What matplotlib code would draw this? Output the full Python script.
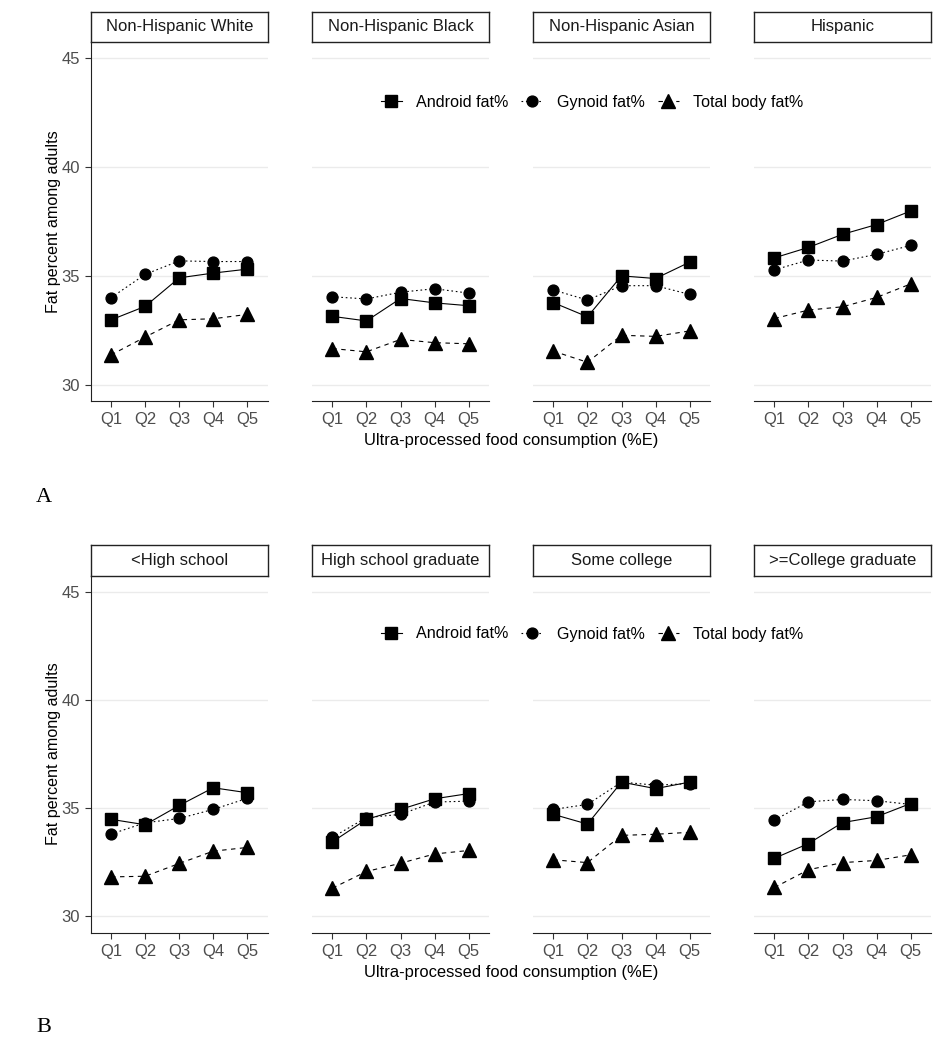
import numpy as np
import matplotlib
matplotlib.use('Agg')
import matplotlib.pyplot as plt
from matplotlib.lines import Line2D

plt.rcParams['font.family'] = ['Liberation Sans', 'DejaVu Sans']

# -----------------------------------------------------------------------------
# data
# -----------------------------------------------------------------------------
quintiles = ['Q1', 'Q2', 'Q3', 'Q4', 'Q5']

race_groups = ['Non-Hispanic White', 'Non-Hispanic Black', 'Non-Hispanic Asian', 'Hispanic']
android_race = [
    [32.98, 33.60, 34.91, 35.13, 35.31],
    [33.14, 32.93, 33.96, 33.76, 33.63],
    [33.77, 33.12, 35.00, 34.88, 35.63],
    [35.83, 36.31, 36.91, 37.36, 37.98],
]
gynoid_race = [
    [34.00, 35.07, 35.69, 35.66, 35.66],
    [34.04, 33.94, 34.25, 34.41, 34.21],
    [34.35, 33.89, 34.55, 34.55, 34.15],
    [35.28, 35.73, 35.68, 35.99, 36.40],
]
total_race = [
    [31.37, 32.19, 32.98, 33.03, 33.23],
    [31.66, 31.51, 32.08, 31.93, 31.88],
    [31.54, 31.03, 32.27, 32.22, 32.47],
    [33.04, 33.43, 33.58, 34.01, 34.63],
]

edu_groups = ['<High school', 'High school graduate', 'Some college', '>=College graduate']
android_edu = [
    [34.48, 34.23, 35.12, 35.94, 35.71],
    [33.44, 34.48, 34.94, 35.43, 35.67],
    [34.71, 34.26, 36.20, 35.90, 36.20],
    [32.68, 33.36, 34.33, 34.60, 35.21],
]
gynoid_edu = [
    [33.80, 34.32, 34.52, 34.94, 35.45],
    [33.65, 34.56, 34.71, 35.28, 35.32],
    [34.94, 35.17, 36.20, 36.06, 36.13],
    [34.45, 35.29, 35.40, 35.34, 35.17],
]
total_edu = [
    [31.82, 31.85, 32.44, 33.01, 33.18],
    [31.30, 32.07, 32.45, 32.88, 33.04],
    [32.61, 32.48, 33.74, 33.79, 33.88],
    [31.33, 32.15, 32.48, 32.58, 32.84],
]

# -----------------------------------------------------------------------------
# layout (pixels)
# -----------------------------------------------------------------------------
W, H = 948, 1050
fig = plt.figure(figsize=(W / 100, H / 100), dpi=100)

panel_lefts = [90.7, 312, 533, 754]
panel_w = 177
GRAY = '#4D4D4D'
GRID = '#EBEBEB'
FS = 11.6


def px_axes(x0, y_top, w, h):
    return fig.add_axes([x0 / W, 1 - (y_top + h) / H, w / W, h / H])


def draw_row(groups, android, gynoid, total, strip_top, plot_top, plot_bot, letter, letter_y):
    for i, name in enumerate(groups):
        x0 = panel_lefts[i]
        ax = px_axes(x0, plot_top, panel_w, plot_bot - plot_top)
        xs = np.arange(len(quintiles))
        ax.plot(xs, android[i], color='black', lw=0.8, ls='-', marker='s', ms=8.3, zorder=3)
        ax.plot(xs, gynoid[i], color='black', lw=0.8, ls=(0, (1.5, 2.5)), marker='o', ms=7.8, zorder=3)
        ax.plot(xs, total[i], color='black', lw=0.8, ls=(0, (4, 4)), marker='^', ms=9.5, zorder=3)
        ax.set_xlim(-0.6, 4.6)
        ax.set_ylim(29.25, 45.75)
        ax.set_yticks([30, 35, 40, 45])
        ax.set_xticks(xs)
        ax.set_xticklabels(quintiles)
        ax.yaxis.grid(True, color=GRID, lw=1.0)
        ax.set_axisbelow(True)
        for s in ['top', 'right']:
            ax.spines[s].set_visible(False)
        ax.spines['bottom'].set_color('#222222')
        ax.spines['left'].set_color('#222222')
        ax.tick_params(axis='both', colors='#333333', labelcolor=GRAY, labelsize=12, length=4, width=0.8)
        ax.tick_params(axis='x', pad=4)
        if i > 0:
            ax.spines['left'].set_visible(False)
            ax.tick_params(axis='y', left=False, labelleft=False)
        else:
            ax.set_ylabel('Fat percent among adults', fontsize=FS, color='black', labelpad=0.5)
        # strip
        sax = px_axes(x0, strip_top, panel_w, plot_top - strip_top)
        sax.set_xticks([])
        sax.set_yticks([])
        for s in sax.spines.values():
            s.set_color('#222222')
            s.set_linewidth(1.0)
        sax.text(0.5, 0.5, name, ha='center', va='center', fontsize=12, color='#1A1A1A',
                 transform=sax.transAxes)
    fig.text((panel_lefts[0] + panel_lefts[-1] + panel_w) / 2 / W, 1 - (plot_bot + 39.5) / H,
             'Ultra-processed food consumption (%E)', ha='center', va='center', fontsize=11.9)
    fig.text(36 / W, 1 - letter_y / H, letter, ha='left', va='center', fontsize=16,
             family='Liberation Serif')


draw_row(race_groups, android_race, gynoid_race, total_race, 12, 42, 401, 'A', 497)
draw_row(edu_groups, android_edu, gynoid_edu, total_edu, 545, 575.5, 932.5, 'B', 1027)

# legends
handles = [
    Line2D([], [], color='black', lw=0.8, ls='-', marker='s', ms=8.3),
    Line2D([], [], color='black', lw=0.8, ls=(0, (1.5, 2.5)), marker='o', ms=7.8),
    Line2D([], [], color='black', lw=0.8, ls=(0, (4, 4)), marker='^', ms=9.5),
]
labels = ['Android fat%', 'Gynoid fat%', 'Total body fat%']
for ly in [102, 634]:
    fig.legend(handles, labels, loc='center', bbox_to_anchor=(592 / W, 1 - ly / H), ncol=3,
               frameon=False, fontsize=FS, handlelength=1.3, handletextpad=0.9, columnspacing=0.8)

plt.savefig('out.png', dpi=100, facecolor='white')
